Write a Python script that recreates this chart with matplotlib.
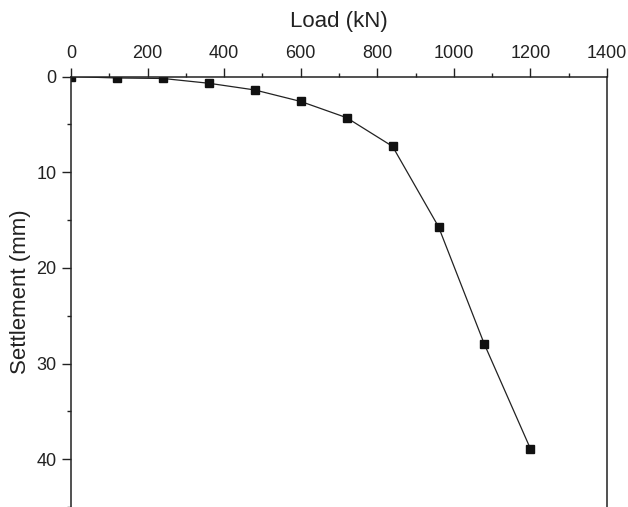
import numpy as np
import matplotlib
matplotlib.use("Agg")
import matplotlib.pyplot as plt
from matplotlib.ticker import MultipleLocator

plt.rcParams['font.family'] = ['Liberation Sans', 'DejaVu Sans']

# load-settlement readings
load_kn = [0, 120, 240, 360, 480, 600, 720, 840, 960, 1080, 1200]
settlement_mm = [0.0, 0.15, 0.2, 0.7, 1.4, 2.6, 4.3, 7.3, 15.7, 28.0, 38.9]

fig = plt.figure(figsize=(6.28, 5.07), dpi=100)
ax = fig.add_axes([0.113, 0.0, 0.8535, 0.849])

ax.plot(load_kn, settlement_mm, color='#222222', lw=0.9,
        marker='s', ms=5.5, mfc='#111111', mec='#111111')

ax.set_xlim(0, 1400)
ax.set_ylim(45, 0)
ax.xaxis.set_ticks_position('top')
ax.xaxis.set_label_position('top')
ax.xaxis.set_major_locator(MultipleLocator(200))
ax.xaxis.set_minor_locator(MultipleLocator(100))
ax.yaxis.set_major_locator(MultipleLocator(10))
ax.yaxis.set_minor_locator(MultipleLocator(5))
ax.tick_params(which='major', direction='out', length=6.5, width=1, labelsize=13,
               pad=4, colors='#222222')
ax.tick_params(which='minor', direction='out', length=3, width=1, colors='#222222')

ax.spines['bottom'].set_visible(False)
for s in ['top', 'left', 'right']:
    ax.spines[s].set_linewidth(1.1)
    ax.spines[s].set_color('#222222')

ax.set_xlabel('Load (kN)', fontsize=16, labelpad=13, color='#222222')
ax.set_ylabel('Settlement (mm)', fontsize=16, labelpad=4, color='#222222')

fig.savefig('out.png', dpi=100)
